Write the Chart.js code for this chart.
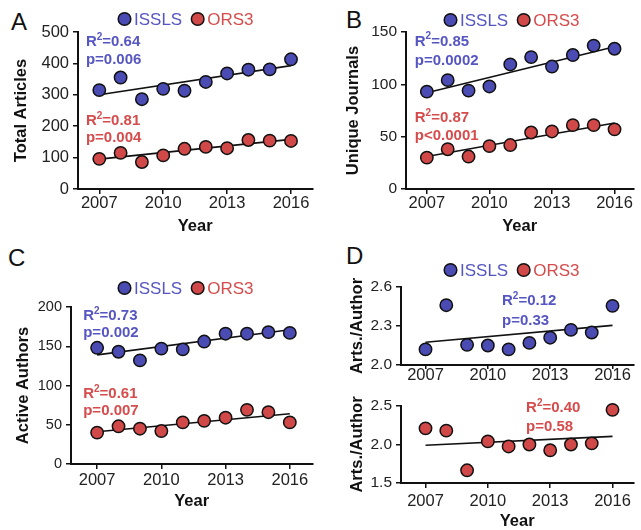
<!DOCTYPE html>
<html>
<head>
<meta charset="utf-8">
<script src="https://cdn.jsdelivr.net/npm/chart.js@4"></script>
<style>
  body { margin: 0; width: 641px; height: 530px; overflow: hidden; background: #fff; position: relative;
         font-family: "Liberation Sans", Arial, sans-serif; }
  .panel { position: absolute; }
  .letter { position: absolute; font-size: 24px; line-height: 1; color: #111; }
</style>
</head>
<body>
<div class="letter" style="left:11px;top:10px">A</div>
<div class="letter" style="left:346px;top:8px">B</div>
<div class="letter" style="left:8px;top:246px">C</div>
<div class="letter" style="left:346px;top:244px">D</div>

<canvas class="panel" id="chartA" width="320" height="240" style="left:0;top:0"></canvas>
<canvas class="panel" id="chartB" width="321" height="240" style="left:320px;top:0"></canvas>
<canvas class="panel" id="chartC" width="320" height="255" style="left:0;top:260px"></canvas>
<canvas class="panel" id="chartD1" width="321" height="125" style="left:320px;top:260px"></canvas>
<canvas class="panel" id="chartD2" width="321" height="140" style="left:320px;top:390px"></canvas>

<script>
// values (2007..2016)
const years = [2007, 2008, 2009, 2010, 2011, 2012, 2013, 2014, 2015, 2016];
const yearTicks = [2007, 2010, 2013, 2016];
const fitYears = [2007, 2016];
const seriesNames = ['ISSLS', 'ORS3'];

const articlesISSLS = [315, 355, 286, 319, 313, 341, 368, 380, 381, 413];
const articlesORS3 = [96, 115, 86, 107, 128, 134, 130, 156, 154, 153];
const articlesFitISSLS = [300, 393];
const articlesFitORS3 = [95, 158];
const articlesTicks = [0, 100, 200, 300, 400, 500];

const journalsISSLS = [93, 104, 94, 98, 119, 126, 117, 128, 137, 134];
const journalsORS3 = [30, 38, 31, 41, 42, 54, 55, 61, 61, 57];
const journalsFitISSLS = [92, 136];
const journalsFitORS3 = [31, 63];
const journalsTicks = [0, 50, 100, 150];

const authorsISSLS = [148, 143, 132, 147, 146, 156, 166, 166, 168, 167];
const authorsORS3 = [40, 48, 45, 42, 53, 55, 59, 69, 66, 53];
const authorsFitISSLS = [139, 171];
const authorsFitORS3 = [41, 64];
const authorsTicks = [0, 50, 100, 150, 200];

const ratioISSLS = [2.12, 2.46, 2.155, 2.15, 2.12, 2.17, 2.21, 2.27, 2.25, 2.455];
const ratioORS3 = [2.21, 2.18, 1.665, 2.04, 1.975, 2.0, 1.925, 2.0, 2.015, 2.45];
const ratioFitISSLS = [2.175, 2.305];
const ratioFitORS3 = [1.99, 2.105];
const ratioTicksISSLS = [2.0, 2.3, 2.6];
const ratioTicksORS3 = [1.5, 2.0, 2.5];

const FONT = '"Liberation Sans", Arial, sans-serif';
const blueFill = '#4b4bb4', blueText = '#5656c2';
const redFill = '#d04848', redText = '#d64c4c';
const fills = { ISSLS: blueFill, ORS3: redFill };
const textColors = { ISSLS: blueText, ORS3: redText };

// legend: dot + coloured name, drawn at a fixed spot
const dotLegend = {
  id: 'dotLegend',
  afterDraw(chart, args, opts) {
    if (opts.x === undefined) return;
    const ctx = chart.ctx;
    ctx.save();
    ctx.font = '17px ' + FONT;
    ctx.textBaseline = 'middle';
    ctx.textAlign = 'left';
    let x = opts.x;
    seriesNames.forEach(name => {
      ctx.beginPath();
      ctx.arc(x + 6.5, opts.y, 6.3, 0, Math.PI * 2);
      ctx.fillStyle = fills[name];
      ctx.fill();
      ctx.lineWidth = 1.5;
      ctx.strokeStyle = '#111';
      ctx.stroke();
      ctx.fillStyle = textColors[name];
      ctx.fillText(name, x + 16, opts.y + 1);
      x += 16 + ctx.measureText(name).width + 9;
    });
    ctx.restore();
  }
};

// R^2 / p text next to each series
const statsLabels = {
  id: 'statsLabels',
  afterDatasetsDraw(chart) {
    const { ctx, scales: { x, y } } = chart;
    chart.data.datasets.forEach(ds => {
      if (!ds.note) return;
      const px = x.getPixelForValue(ds.note.x);
      const py = y.getPixelForValue(ds.note.y);
      ctx.save();
      ctx.fillStyle = textColors[ds.label];
      ctx.textBaseline = 'middle';
      ctx.textAlign = 'left';
      ctx.font = 'bold 15px ' + FONT;
      ctx.fillText('R', px, py);
      let w = ctx.measureText('R').width;
      ctx.font = 'bold 10px ' + FONT;
      ctx.fillText('2', px + w, py - 5);
      w += ctx.measureText('2').width;
      ctx.font = 'bold 15px ' + FONT;
      ctx.fillText('=' + ds.note.r2, px + w, py);
      ctx.fillText(ds.note.p, px, py + ds.note.gap);
      ctx.restore();
    });
  }
};

function makePanel(id, cfg) {
  const datasets = [];
  cfg.series.forEach(s => {
    datasets.push({
      type: 'scatter',
      label: s.name,
      data: years.map((yr, i) => ({ x: yr, y: s.values[i] })),
      backgroundColor: fills[s.name],
      borderColor: '#111',
      borderWidth: 1.5,
      pointRadius: 6.2,
      pointHoverRadius: 6.2,
      clip: false,
      note: s.note,
      order: 0
    });
    datasets.push({
      type: 'line',
      label: s.name + ' fit',
      data: fitYears.map((yr, i) => ({ x: yr, y: s.fit[i] })),
      borderColor: '#111',
      borderWidth: 1.6,
      pointRadius: 0,
      fill: false,
      order: 1
    });
  });

  return new Chart(document.getElementById(id), {
    type: 'scatter',
    data: { datasets },
    options: {
      responsive: false,
      animation: false,
      events: [],
      layout: { padding: cfg.padding },
      plugins: {
        legend: { display: false },
        tooltip: { enabled: false },
        dotLegend: cfg.legend || {}
      },
      scales: {
        x: {
          type: 'linear',
          min: cfg.xMin,
          max: cfg.xMax,
          afterBuildTicks: s => { s.ticks = yearTicks.map(v => ({ value: v })); },
          afterFit: s => { s.height = cfg.xHeight; },
          grid: { drawOnChartArea: false, drawTicks: true, tickLength: cfg.xTick, color: '#111', lineWidth: 1.5 },
          border: { display: true, color: '#111', width: 2 },
          ticks: {
            padding: cfg.xPad,
            color: '#222',
            font: { family: FONT, size: 16.5, lineHeight: 1 },
            callback: v => String(v)
          },
          title: {
            display: !!cfg.xTitle,
            text: 'Year',
            color: '#111',
            font: { family: FONT, size: 16.5, weight: 'bold', lineHeight: 1 },
            padding: { top: 0, bottom: cfg.titlePad || 0 }
          }
        },
        y: {
          min: cfg.yTicks[0],
          max: cfg.yTicks[cfg.yTicks.length - 1],
          afterBuildTicks: s => { s.ticks = cfg.yTicks.map(v => ({ value: v })); },
          afterFit: s => { s.width = cfg.yWidth; },
          grid: { drawOnChartArea: false, drawTicks: true, tickLength: 5, color: '#111', lineWidth: 1.5 },
          border: { display: true, color: '#111', width: 2 },
          ticks: {
            padding: 4,
            color: '#222',
            font: { family: FONT, size: cfg.yFont, lineHeight: 1 },
            callback: v => cfg.decimals ? v.toFixed(1) : String(v)
          },
          title: {
            display: true,
            text: cfg.yTitle,
            color: '#111',
            font: { family: FONT, size: 16.5, weight: 'bold', lineHeight: 1 },
            padding: { top: cfg.yTitlePad, bottom: 0 }
          }
        }
      }
    },
    plugins: [dotLegend, statsLabels]
  });
}

makePanel('chartA', {
  padding: { left: 0, top: 32, right: 7, bottom: 0 },
  xMin: 2006, xMax: 2017, xHeight: 51, xTick: 5, xPad: 1, xTitle: true, titlePad: 5,
  yTicks: articlesTicks, yWidth: 78, yFont: 16.5, yTitle: 'Total Articles', yTitlePad: 13,
  legend: { x: 118, y: 19 },
  series: [
    { name: 'ISSLS', values: articlesISSLS, fit: articlesFitISSLS,
      note: { x: 2006.37, y: 468, r2: '0.64', p: 'p=0.006', gap: 18 } },
    { name: 'ORS3', values: articlesORS3, fit: articlesFitORS3,
      note: { x: 2006.37, y: 217, r2: '0.81', p: 'p=0.004', gap: 17 } }
  ]
});

makePanel('chartB', {
  padding: { left: 0, top: 32, right: 0, bottom: 0 },
  xMin: 2006, xMax: 2016.9, xHeight: 51, xTick: 5, xPad: 1, xTitle: true, titlePad: 5,
  yTicks: journalsTicks, yWidth: 86, yFont: 15.5, yTitle: 'Unique Journals', yTitlePad: 25,
  legend: { x: 124, y: 20 },
  series: [
    { name: 'ISSLS', values: journalsISSLS, fit: journalsFitISSLS,
      note: { x: 2006.42, y: 140.7, r2: '0.85', p: 'p=0.0002', gap: 19 } },
    { name: 'ORS3', values: journalsORS3, fit: journalsFitORS3,
      note: { x: 2006.42, y: 67.8, r2: '0.87', p: 'p<0.0001', gap: 18 } }
  ]
});

makePanel('chartC', {
  padding: { left: 0, top: 47, right: 7, bottom: 0 },
  xMin: 2005.78, xMax: 2017.05, xHeight: 51, xTick: 5, xPad: 3, xTitle: true, titlePad: 5,
  yTicks: authorsTicks, yWidth: 71, yFont: 14.5, yTitle: 'Active Authors', yTitlePad: 15,
  legend: { x: 118, y: 28 },
  series: [
    { name: 'ISSLS', values: authorsISSLS, fit: authorsFitISSLS,
      note: { x: 2006.35, y: 188.2, r2: '0.73', p: 'p=0.002', gap: 17 } },
    { name: 'ORS3', values: authorsORS3, fit: authorsFitORS3,
      note: { x: 2006.35, y: 88.8, r2: '0.61', p: 'p=0.007', gap: 17 } }
  ]
});

makePanel('chartD1', {
  padding: { left: 0, top: 27, right: 0, bottom: 0 },
  xMin: 2005.82, xMax: 2017, xHeight: 20, xTick: 4, xPad: -2, xTitle: false,
  yTicks: ratioTicksISSLS, yWidth: 81, yFont: 15.5, yTitle: 'Arts./Author', yTitlePad: 29, decimals: true,
  legend: { x: 124, y: 10 },
  series: [
    { name: 'ISSLS', values: ratioISSLS, fit: ratioFitISSLS,
      note: { x: 2010.68, y: 2.491, r2: '0.12', p: 'p=0.33', gap: 20 } }
  ]
});

makePanel('chartD2', {
  padding: { left: 0, top: 16, right: 0, bottom: 0 },
  xMin: 2005.82, xMax: 2017, xHeight: 47, xTick: 5, xPad: 5, xTitle: true, titlePad: 0,
  yTicks: ratioTicksORS3, yWidth: 81, yFont: 15.5, yTitle: 'Arts./Author', yTitlePad: 29, decimals: true,
  series: [
    { name: 'ORS3', values: ratioORS3, fit: ratioFitORS3,
      note: { x: 2011.84, y: 2.47, r2: '0.40', p: 'p=0.58', gap: 19 } }
  ]
});
</script>
</body>
</html>
